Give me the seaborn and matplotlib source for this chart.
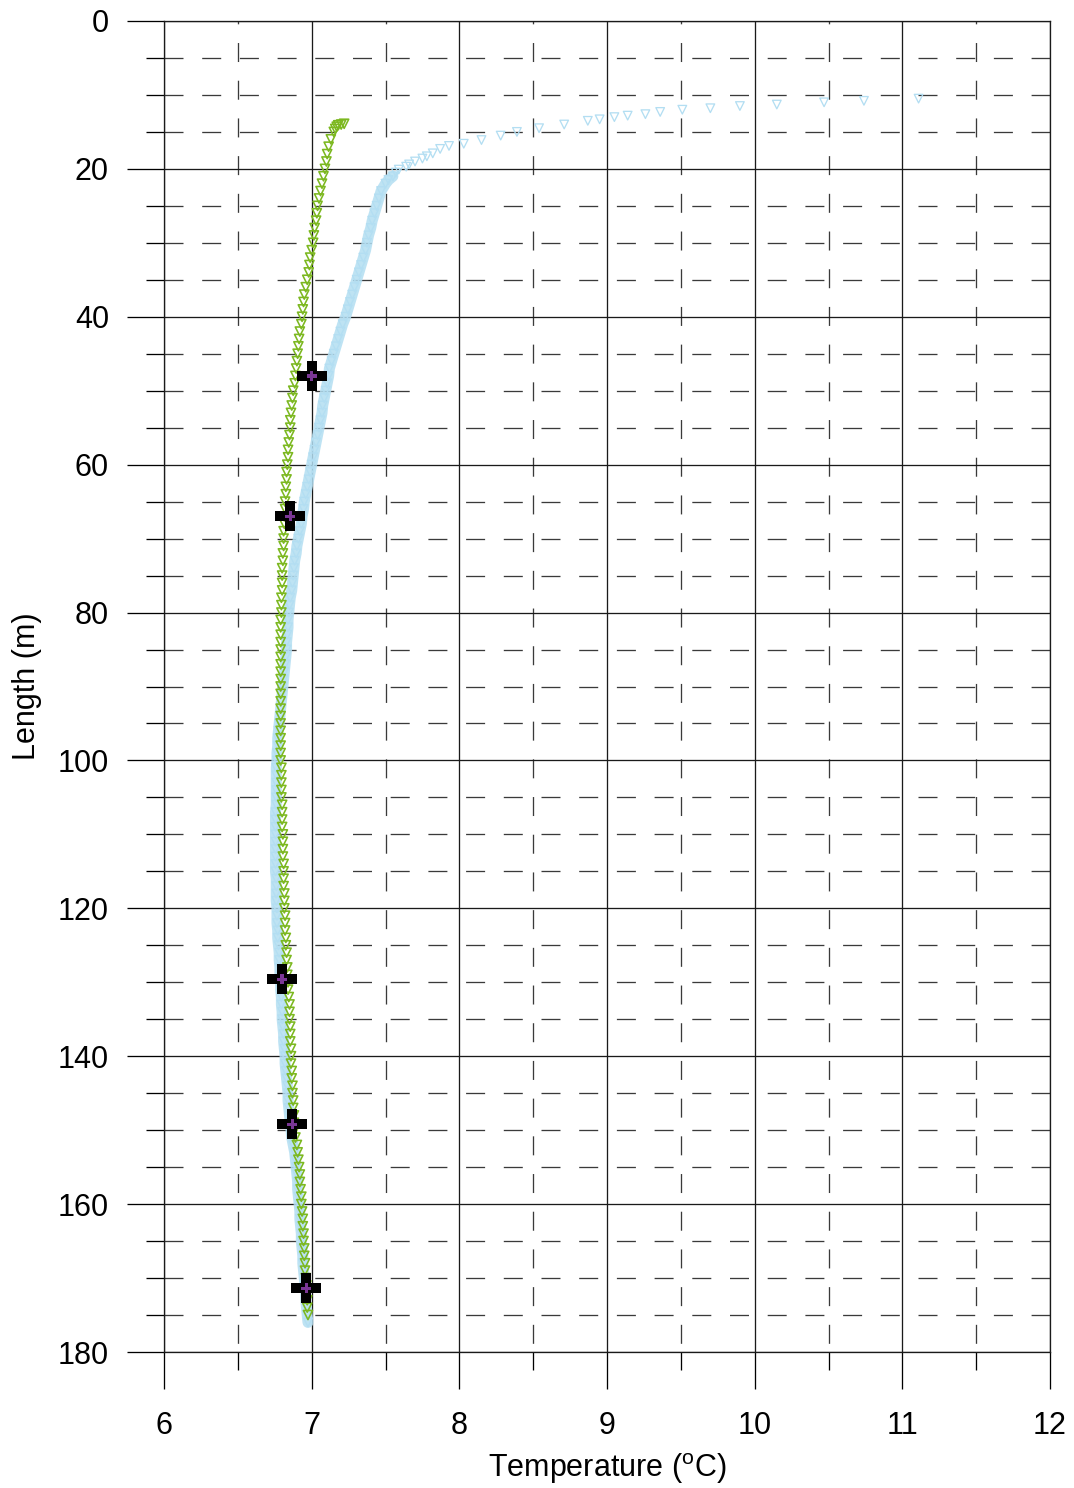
import matplotlib
matplotlib.use("Agg")
import matplotlib.pyplot as plt
from matplotlib.ticker import MultipleLocator
import seaborn as sns
import pandas as pd

# ---------------- data ----------------
blue_depth = [10.5, 10.8, 11.0, 11.3, 11.5, 11.8, 12.0, 12.3, 12.6, 12.8, 13.0, 13.3, 13.5, 14.0, 14.5,
              15.0, 15.5, 16.1, 16.6, 16.9, 17.3, 17.9, 18.3, 18.6, 19.0, 19.4, 19.7, 20.1, 20.5, 21.0,
              21.5, 22.0,
              23, 24, 25, 26, 27, 28, 29, 30, 31, 32, 33, 34, 35, 36, 37, 38, 39, 40, 41, 42, 43, 44,
              45, 46, 47, 48, 49, 50, 51, 52, 53, 54, 55, 56, 57, 58, 59, 60, 61, 62, 63, 64, 65, 66,
              67, 68, 69, 70, 71, 72, 73, 74, 75, 76, 77, 78, 79, 80, 81, 82, 83, 84, 85, 86, 87, 88,
              89, 90, 91, 92, 93, 94, 95, 96, 97, 98, 99, 100, 101, 102, 103, 104, 105, 106, 107, 108,
              109, 110, 111, 112, 113, 114, 115, 116, 117, 118, 119, 120, 121, 122, 123, 124, 125, 126,
              127, 128, 129, 130, 131, 132, 133, 134, 135, 136, 137, 138, 139, 140, 141, 142, 143, 144,
              145, 146, 147, 148, 149, 150, 151, 152, 153, 154, 155, 156, 157, 158, 159, 160, 161, 162,
              163, 164, 165, 166, 167, 168, 169, 170, 171, 172, 173, 174, 175, 176]
blue_temp = [11.11, 10.74, 10.47, 10.15, 9.90, 9.70, 9.51, 9.36, 9.26, 9.14, 9.05, 8.95, 8.87, 8.71, 8.54,
             8.39, 8.28, 8.15, 8.03, 7.93, 7.87, 7.82, 7.78, 7.75, 7.70, 7.66, 7.64, 7.59, 7.57, 7.55,
             7.52, 7.50,
             7.47, 7.455, 7.44, 7.425, 7.41, 7.40, 7.385, 7.375, 7.365, 7.35, 7.335, 7.32, 7.305, 7.29,
             7.275, 7.26, 7.245, 7.23, 7.21, 7.195, 7.18, 7.165, 7.15, 7.135, 7.12, 7.115, 7.105, 7.095,
             7.085, 7.075, 7.07, 7.06, 7.05, 7.04, 7.03, 7.02, 7.01, 7.00, 6.99, 6.98, 6.97, 6.96, 6.95,
             6.945, 6.935, 6.93, 6.92, 6.91, 6.90, 6.895, 6.885, 6.88, 6.875, 6.87, 6.865, 6.855, 6.85,
             6.845, 6.84, 6.84, 6.835, 6.83, 6.83, 6.825, 6.82, 6.815, 6.81, 6.805, 6.80, 6.795, 6.79,
             6.785, 6.78, 6.775, 6.77, 6.77, 6.765, 6.765, 6.76, 6.76, 6.76, 6.76, 6.76, 6.76, 6.755,
             6.755, 6.755, 6.755, 6.755, 6.755, 6.755, 6.755, 6.755, 6.76, 6.76, 6.76, 6.76, 6.765,
             6.765, 6.765, 6.77, 6.77, 6.775, 6.78, 6.78, 6.785, 6.785, 6.79, 6.79, 6.795, 6.795, 6.80,
             6.80, 6.805, 6.81, 6.81, 6.815, 6.82, 6.82, 6.825, 6.83, 6.835, 6.84, 6.84, 6.845, 6.85,
             6.855, 6.86, 6.865, 6.875, 6.885, 6.89, 6.895, 6.90, 6.905, 6.905, 6.91, 6.915, 6.92, 6.92,
             6.925, 6.93, 6.93, 6.935, 6.94, 6.94, 6.945, 6.95, 6.955, 6.96, 6.96, 6.965, 6.97, 6.975]

green_depth = [13.9, 14.0, 14.1, 14.3, 14.6,
               15, 16, 17, 18, 19, 20, 21, 22, 23, 24, 25, 26, 27, 28, 29, 30, 31, 32, 33, 34, 35, 36,
               37, 38, 39, 40, 41, 42, 43, 44, 45, 46, 47, 48, 49, 50, 51, 52, 53, 54, 55, 56, 57, 58,
               59, 60, 61, 62, 63, 64, 65, 66, 67, 68, 69, 70, 71, 72, 73, 74, 75, 76, 77, 78, 79, 80,
               81, 82, 83, 84, 85, 86, 87, 88, 89, 90, 91, 92, 93, 94, 95, 96, 97, 98, 99, 100, 101,
               102, 103, 104, 105, 106, 107, 108, 109, 110, 111, 112, 113, 114, 115, 116, 117, 118, 119,
               120, 121, 122, 123, 124, 125, 126, 127, 128, 129, 130, 131, 132, 133, 134, 135, 136, 137,
               138, 139, 140, 141, 142, 143, 144, 145, 146, 147, 148, 149, 150, 151, 152, 153, 154, 155,
               156, 157, 158, 159, 160, 161, 162, 163, 164, 165, 166, 167, 168, 169, 170, 171, 172, 173,
               174, 175]
green_temp = [7.22, 7.20, 7.18, 7.17, 7.16,
              7.15, 7.13, 7.115, 7.105, 7.10, 7.09, 7.08, 7.07, 7.06, 7.05, 7.04, 7.035, 7.03, 7.02,
              7.015, 7.01, 7.00, 6.99, 6.985, 6.98, 6.97, 6.96, 6.95, 6.945, 6.94, 6.935, 6.93, 6.92,
              6.915, 6.91, 6.905, 6.90, 6.895, 6.89, 6.885, 6.875, 6.87, 6.865, 6.86, 6.855, 6.855, 6.85,
              6.845, 6.84, 6.84, 6.835, 6.83, 6.83, 6.825, 6.825, 6.82, 6.82, 6.815, 6.815, 6.81, 6.81,
              6.81, 6.805, 6.805, 6.80, 6.80, 6.80, 6.80, 6.795, 6.795, 6.795,
              6.79, 6.79, 6.79, 6.79, 6.79, 6.79, 6.79, 6.79, 6.79, 6.79, 6.79, 6.79, 6.79, 6.79, 6.79,
              6.79, 6.79, 6.79, 6.79, 6.79,
              6.795, 6.795, 6.795, 6.795, 6.795, 6.80, 6.80, 6.80, 6.80, 6.805, 6.805, 6.805, 6.805,
              6.81, 6.81, 6.81, 6.81, 6.815, 6.815, 6.815, 6.82, 6.82, 6.82, 6.825, 6.825, 6.83, 6.83,
              6.835, 6.835, 6.84, 6.84, 6.845, 6.85, 6.85, 6.85, 6.855, 6.855, 6.855, 6.86, 6.86, 6.86,
              6.865, 6.865, 6.87, 6.87, 6.875, 6.875, 6.88, 6.88, 6.885, 6.89, 6.90, 6.905, 6.91, 6.915,
              6.92, 6.92, 6.925, 6.93, 6.93, 6.935, 6.94, 6.94, 6.945, 6.945, 6.95, 6.95, 6.955, 6.955,
              6.96, 6.965, 6.965, 6.97, 6.97, 6.975]

cross_temp = [7.00, 6.855, 6.80, 6.87, 6.965]
cross_depth = [48.0, 67.0, 129.6, 149.2, 171.4]

x_ticks = [6, 7, 8, 9, 10, 11, 12]
y_ticks = [0, 20, 40, 60, 80, 100, 120, 140, 160, 180]
x_label = r"Temperature ($^{\mathrm{o}}$C)"
y_label = "Length (m)"

# ---------------- style ----------------
sns.set_theme(style="white")
plt.rcParams["font.family"] = ["Liberation Sans", "DejaVu Sans"]
plt.rcParams["mathtext.fontset"] = "custom"
plt.rcParams["mathtext.rm"] = "Liberation Sans"
plt.rcParams["lines.scale_dashes"] = False
plt.rcParams["text.color"] = "black"
plt.rcParams["axes.labelcolor"] = "black"
plt.rcParams["xtick.color"] = "black"
plt.rcParams["ytick.color"] = "black"

BLUE = "#b3def2"
GREEN = "#7cb820"
PURPLE = "#7a3794"
PX = 0.72  # points per pixel at dpi 100

fig = plt.figure(figsize=(10.74, 14.88), dpi=100)
ax = fig.add_axes([164 / 1074, 1 - 1352 / 1488, (1050 - 164) / 1074, (1352 - 21) / 1488])

df_blue = pd.DataFrame({"temp": blue_temp, "depth": blue_depth})
df_green = pd.DataFrame({"temp": green_temp, "depth": green_depth})
df_cross = pd.DataFrame({"temp": cross_temp, "depth": cross_depth})

# blue profile: dense band + open triangles
dense = df_blue[df_blue["depth"] >= 21.0]
sns.lineplot(data=dense, x="temp", y="depth", sort=False, estimator=None, ax=ax,
             color=BLUE, lw=11 * PX, alpha=0.85, zorder=3)
sns.scatterplot(data=df_blue, x="temp", y="depth", ax=ax, marker="v", s=(6.2) ** 2,
                color=BLUE, facecolor="none", edgecolor=BLUE, linewidth=1.3 * PX, zorder=4)
# green profile: open triangles
sns.scatterplot(data=df_green, x="temp", y="depth", ax=ax, marker="v", s=(6.6) ** 2,
                color=GREEN, facecolor="none", edgecolor=GREEN, linewidth=1.6 * PX, zorder=5)
# crosses
sns.scatterplot(data=df_cross, x="temp", y="depth", ax=ax, marker="P", s=(30 * PX) ** 2,
                color="black", edgecolor="none", linewidth=0, zorder=6)
sns.scatterplot(data=df_cross, x="temp", y="depth", ax=ax, marker="P", s=(10 * PX) ** 2,
                color=PURPLE, edgecolor="none", linewidth=0, zorder=7)

ax.set_xlim(6, 12)
ax.set_ylim(180, 0)
ax.set_xticks(x_ticks)
ax.set_yticks(y_ticks)
ax.xaxis.set_minor_locator(MultipleLocator(0.5))
ax.yaxis.set_minor_locator(MultipleLocator(5))

ax.grid(which="major", color="#1a1a1a", lw=1.3 * PX, ls="-", zorder=1)
ax.yaxis.grid(which="minor", color="#3a3a3a", lw=1.3 * PX, ls=(0, (19 * PX, 18.7 * PX)))
ax.xaxis.grid(which="minor", color="#3a3a3a", lw=1.3 * PX, ls=(20.9, (19 * PX, 18.7 * PX)))
ax.set_axisbelow(True)

ax.tick_params(which="major", direction="out", length=37 * PX, width=1.3 * PX, color="black",
               labelsize=22, labelcolor="black", bottom=True, left=True, top=False, right=False)
ax.tick_params(which="minor", direction="out", length=18 * PX, width=1.3 * PX, color="black",
               bottom=True, left=True, top=False, right=False)
ax.tick_params(axis="x", which="major", pad=16)
ax.tick_params(axis="y", which="major", pad=13)

for side in ["left", "bottom", "top", "right"]:
    ax.spines[side].set_color("#1a1a1a")
    ax.spines[side].set_linewidth(1.3 * PX)

ax.set_xlabel(x_label, fontsize=22, labelpad=7, color="black")
ax.set_ylabel(y_label, fontsize=22, labelpad=11, color="black")

fig.savefig("out.png", dpi=100)
